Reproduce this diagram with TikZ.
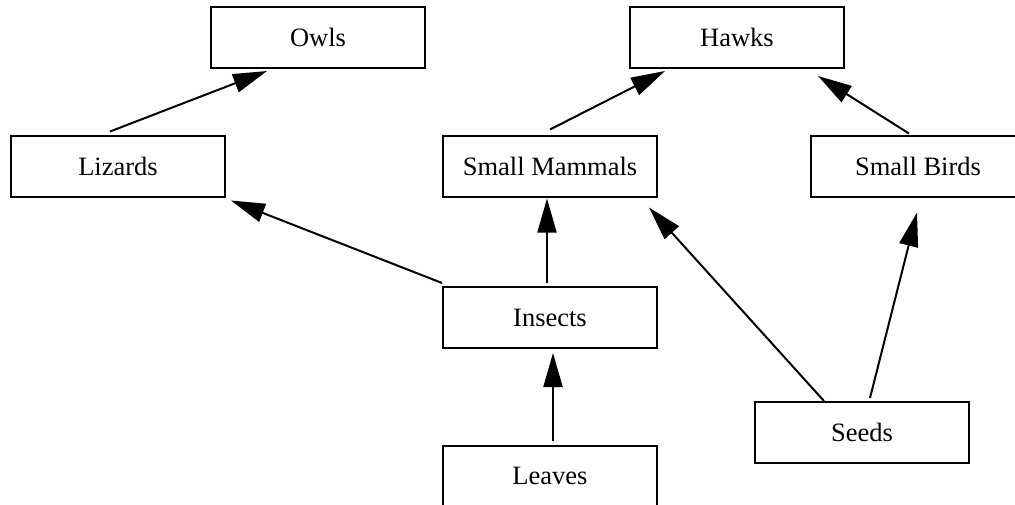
\documentclass[tikz,border=0pt]{standalone}
\usepackage{fontspec}
\setmainfont{Liberation Serif}
\usetikzlibrary{arrows.meta}
\tikzset{foodbox/.style={draw, line width=2pt, minimum width=214pt, minimum height=61pt, inner sep=0pt, font=\fontsize{26.5}{32}\selectfont}}
\begin{document}
\begin{tikzpicture}[>={Triangle[length=34pt,width=19pt]}, x=1pt, y=-1pt, line width=2pt]
	\clip (0,0) rectangle (1015,504);
	\node[foodbox] (owls) at (318,37.5) {Owls};
	\node[foodbox] (hawks) at (737,37.5) {Hawks};
	\node[foodbox] (lizards) at (118,166) {Lizards};
	\node[foodbox] (mammals) at (550,166) {Small Mammals};
	\node[foodbox] (birds) at (918,166) {Small Birds};
	\node[foodbox] (insects) at (550,317.5) {Insects};
	\node[foodbox] (seeds) at (862,432.5) {Seeds};
	\node[foodbox] (leaves) at (550,476) {Leaves};
	\draw[->] ([xshift=-8pt,yshift=3pt]lizards.north) -- ([xshift=-51pt,yshift=-2pt]owls.south);
	\draw[->] ([yshift=5pt]mammals.north) -- ([xshift=-72pt,yshift=-2pt]hawks.south);
	\draw[->] ([xshift=-9pt,yshift=1pt]birds.north) -- ([xshift=81pt,yshift=-7pt]hawks.south);
	\draw[->] ([yshift=3pt]insects.north west) -- ([xshift=5pt,yshift=-3pt]lizards.south east);
	\draw[->] ([xshift=-3pt,yshift=3pt]insects.north) -- ([xshift=-3pt,yshift=-1pt]mammals.south);
	\draw[->] ([xshift=3pt,yshift=3.5pt]leaves.north) -- ([xshift=3pt,yshift=-4pt]insects.south);
	\draw[->] ([xshift=-38pt]seeds.north) -- ([xshift=-9pt,yshift=-10pt]mammals.south east);
	\draw[->] ([xshift=8pt,yshift=3pt]seeds.north) -- ([xshift=-1pt,yshift=-15pt]birds.south);
\end{tikzpicture}
\end{document}
